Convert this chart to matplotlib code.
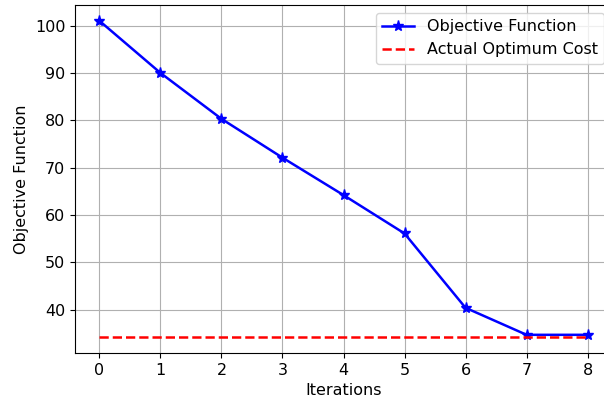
import matplotlib
matplotlib.use("Agg")
import matplotlib.pyplot as plt

iterations = [0, 1, 2, 3, 4, 5, 6, 7, 8]
objective = [101.0, 90.0, 80.3, 72.1, 64.2, 56.1, 40.4, 34.7, 34.7]
optimum_cost = 34.2

fig = plt.figure(figsize=(6.04, 4.07), dpi=100)
# the right edge of the original was cropped, so the axes run past the figure
ax = fig.add_axes([75 / 604, 54 / 407, 537 / 604, 348 / 407])

ax.plot(iterations, objective, color='blue', marker='*', markersize=8,
        linewidth=1.8, label='Objective Function')
ax.plot(iterations, [optimum_cost] * len(iterations), color='red',
        linestyle='--', linewidth=1.8, label='Actual Optimum Cost')

ax.set_xlabel('Iterations', fontsize=11.5)
ax.set_ylabel('Objective Function', fontsize=11.5)
ax.tick_params(labelsize=11.5)
ax.set_xticks(iterations)
ax.grid(True)
ax.legend(loc='upper right', fontsize=11.5)

fig.savefig('out.png', dpi=100)
